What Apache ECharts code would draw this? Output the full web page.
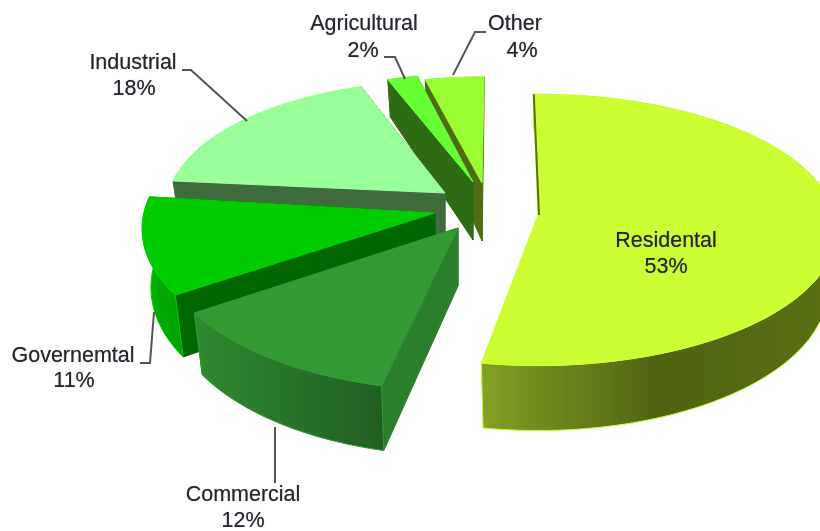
<!DOCTYPE html>
<html>
<head>
<meta charset="utf-8">
<style>html,body{margin:0;padding:0;background:#fff}#c{width:820px;height:531px}</style>
<script src="https://cdn.jsdelivr.net/npm/echarts@6/dist/echarts.min.js"></script>
</head>
<body>
<div id="c"></div>
<script>
// ---- data ----
var categories = ['Residental', 'Commercial', 'Governemtal', 'Industrial', 'Agricultural', 'Other'];
var shares = [53, 12, 11, 18, 2, 4];

// ---- appearance (not data) ----
var topColors  = ['#ccff33', '#339933', '#00cc00', '#99ff99', '#66ff33', '#99ff33'];
var faceColors = ['#66801a', '#2b7f2b', '#006600', '#3f6b3f', '#2d6b14', '#4f6b14'];
var rimStops = [
  ['#84a024', '#4f6312', '#5a7012'],
  ['#2f8a2f', '#287428', '#1f5f1f'],
  ['#00b400', '#00a800', '#00a000']
];
// apex position, size factors and rotation of each exploded wedge
var apexes  = [[538, 215], [458, 228], [435, 213], [445, 193], [473, 182], [482, 183]];
var scales  = [1, 1, 0.98, 0.93, 0.9, 0.88];
var yScales = [1, 1.08, 1.08, 1, 1, 1];
var turns   = [-1, 2.5, 3, 2, 1, 0.5];
var drawOrder = [5, 4, 3, 2, 1, 0];
var RX = 297, RY = 134, PERSP = 0.11, DEPTH = 58, DEPTH_FRONT = 7, DEPTH_BACK = 22, BX = 0.97;

var namePos = [[666, 241], [243, 495], [73, 356], [133, 63], [364, 24], [515, 24]];
var pctPos  = [[666, 267], [243, 521], [74, 381], [134, 89], [363, 51], [522, 51]];
var leaders = [
  null,
  [[275, 427], [275, 483]],
  [[140, 363], [150, 363], [154, 312]],
  [[182, 70], [191, 70], [247, 121]],
  [[384, 57], [395, 57], [405, 79]],
  [[486, 32], [475, 32], [453, 75]]
];

function project(i, deg, fx, low) {
  var t = deg * Math.PI / 180, u = Math.sin(t), v = -Math.cos(t);
  var s = scales[i] / (1 - PERSP * v);
  var dy = low ? DEPTH + (v > 0 ? DEPTH_FRONT : DEPTH_BACK) * v : 0;
  return [apexes[i][0] + RX * u * s * fx, apexes[i][1] + RY * v * s * yScales[i] + dy];
}
var total = shares.reduce(function (a, b) { return a + b; }, 0);
var starts = [], acc = 0;
shares.forEach(function (v) { starts.push(acc / total * 360); acc += v; });

function rim(i, fx, low) {
  var a = starts[i] + turns[i], b = a + shares[i] / total * 360, pts = [], n = Math.ceil((b - a) / 1.5);
  for (var k = 0; k <= n; k++) pts.push(project(i, a + (b - a) * k / n, fx, low));
  return pts;
}
function polygon(points, fill, stroke) {
  return { type: 'polygon', shape: { points: points }, style: { fill: fill, stroke: stroke || fill, lineWidth: 1, lineJoin: 'round' } };
}
function renderItem(params, api) {
  var i = api.value(0), kids = [];
  var top = rim(i, 1, false), low = rim(i, BX, true);
  var apex = apexes[i], apexLow = [apex[0], apex[1] + DEPTH];
  if (i !== 0) {
    kids.push(polygon([top[0], apex, apexLow, low[0]], faceColors[i]));
    kids.push(polygon([top[top.length - 1], apex, apexLow, low[low.length - 1]], faceColors[i]));
  }
  if (rimStops[i]) {
    var g = new echarts.graphic.LinearGradient(0, 0, 1, 0, [
      { offset: 0, color: rimStops[i][0] },
      { offset: 0.5, color: rimStops[i][1] },
      { offset: 1, color: rimStops[i][2] }
    ]);
    kids.push(polygon(top.concat(low.slice().reverse()), g, topColors[i]));
  }
  kids.push(polygon(top.concat([apex]), topColors[i]));
  if (i === 0) {
    kids.push({ type: 'polyline', shape: { points: [project(0, starts[0] + turns[0], 0.9, false), [apex[0] + 1, apex[1]]] },
      style: { stroke: '#5d6e12', lineWidth: 2, fill: null } });
  }
  if (leaders[i]) {
    kids.push({ type: 'polyline', shape: { points: leaders[i] }, style: { stroke: '#555555', lineWidth: 2, fill: null } });
  }
  [[categories[i], namePos[i]], [shares[i] + '%', pctPos[i]]].forEach(function (t) {
    kids.push({ type: 'text', style: { text: t[0], x: t[1][0], y: t[1][1], fill: '#26262e',
      font: '21.5px "Liberation Sans", Arial, sans-serif', textAlign: 'center', textVerticalAlign: 'middle',
      textShadowColor: 'rgba(40,40,60,0.6)', textShadowBlur: 1 } });
  });
  return { type: 'group', children: kids };
}
var chart = echarts.init(document.getElementById('c'), null, { renderer: 'canvas' });
chart.setOption({
  animation: false,
  backgroundColor: '#ffffff',
  series: [{ type: 'custom', coordinateSystem: 'none', renderItem: renderItem, silent: true,
    data: drawOrder.map(function (i) { return [i]; }) }]
});
</script>
</body>
</html>
